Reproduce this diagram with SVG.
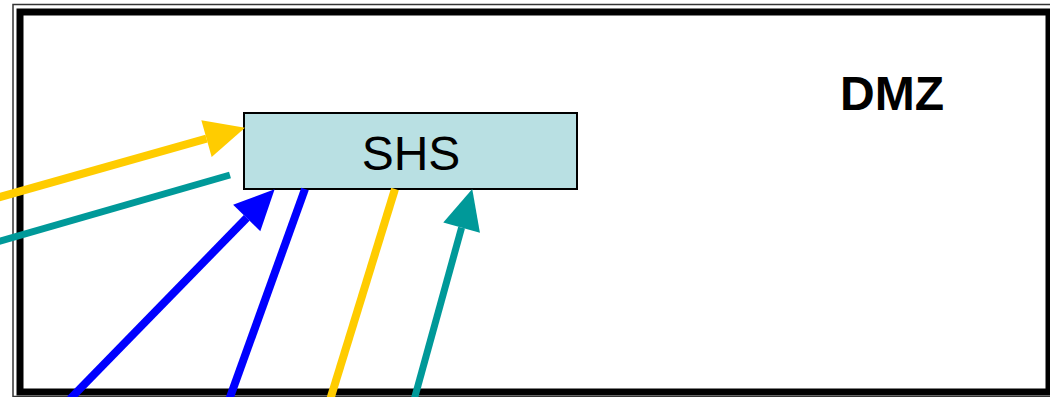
<svg xmlns="http://www.w3.org/2000/svg" width="1050" height="397" viewBox="0 0 1050 397">
<style>
.lbl{font-family:"Liberation Sans",Arial,sans-serif;font-size:48px;fill:#000}
.y{stroke:#ffcc00;stroke-width:8;fill:none}
.t{stroke:#009999;stroke-width:7;fill:none}
.b{stroke:#0000ff;stroke-width:8;fill:none}
</style>
<defs>
<marker id="ay" markerUnits="userSpaceOnUse" markerWidth="40" markerHeight="38" refX="0" refY="19" orient="auto" overflow="visible"><path d="M0,0 L40,19 L0,38 Z" fill="#ffcc00"/></marker>
<marker id="ab" markerUnits="userSpaceOnUse" markerWidth="40" markerHeight="38" refX="0" refY="19" orient="auto" overflow="visible"><path d="M0,0 L40,19 L0,38 Z" fill="#0000ff"/></marker>
<marker id="at" markerUnits="userSpaceOnUse" markerWidth="40" markerHeight="38" refX="0" refY="19" orient="auto" overflow="visible"><path d="M0,0 L40,19 L0,38 Z" fill="#009999"/></marker>
</defs>
<rect width="1050" height="397" fill="#fff"/>
<g id="dmz">
<rect x="13" y="4.5" width="1050" height="392" fill="none" stroke="#333" stroke-width="1.5"/>
<rect x="20" y="12" width="1029" height="380" fill="none" stroke="#000" stroke-width="7"/>
<text class="lbl" x="892" y="110" text-anchor="middle" font-weight="bold">DMZ</text>
</g>
<g id="shs">
<rect x="244" y="113" width="333" height="76" fill="#b9e0e3" stroke="#000" stroke-width="2"/>
<text class="lbl" x="411" y="170" text-anchor="middle">SHS</text>
</g>
<g id="connectors">
<line class="y" x1="-5" y1="198.4" x2="206.5" y2="138.6" marker-end="url(#ay)"/>
<line class="t" x1="-5" y1="242.5" x2="230" y2="175"/>
<line class="b" x1="70" y1="399" x2="246.7" y2="217.9" marker-end="url(#ab)"/>
<line class="b" x1="229" y1="400" x2="305" y2="189"/>
<line class="y" x1="330" y1="400" x2="395" y2="189"/>
<line class="t" x1="414" y1="400" x2="461.6" y2="227.6" marker-end="url(#at)"/>
</g>
</svg>
